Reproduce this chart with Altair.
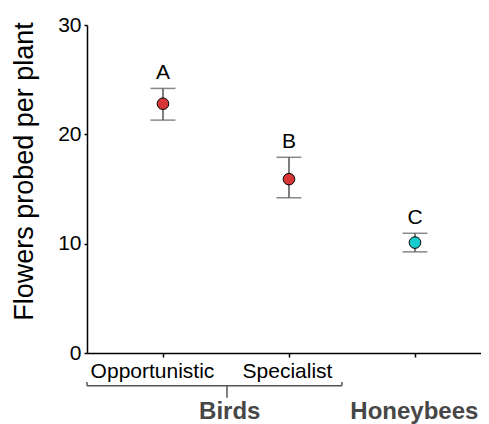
import altair as alt
import pandas as pd

# --- data ---
groups = ["Opportunistic", "Specialist", "Honeybees"]
means = [22.8, 15.9, 10.1]
lower = [21.3, 14.2, 9.25]
upper = [24.2, 17.9, 10.95]
letters = ["A", "B", "C"]
fills = ["#d63636", "#d63636", "#16cccc"]

# axis tick labels (Honeybees tick has no label under it)
tick_labels = ["Opportunistic", "Specialist", ""]

# group annotation below the axis
group_names = ["Birds", "Honeybees"]

df = pd.DataFrame({
    "pos": [i + 1 for i in range(len(groups))],
    "group": groups,
    "mean": means,
    "lower": lower,
    "upper": upper,
    "letter": letters,
    "fill": fills,
})

X_DOMAIN = [0.397, 3.524]
xs = alt.Scale(domain=X_DOMAIN, nice=False, zero=False)
ys = alt.Scale(domain=[0, 30], nice=False, zero=True)

label_expr = "datum.value == 1 ? '%s' : datum.value == 2 ? '%s' : ''" % (tick_labels[0], tick_labels[1])

x_axis = alt.Axis(
    values=[1, 2, 3], labelExpr=label_expr, title=None, grid=False,
    domainColor="black", domainWidth=1.5, tickColor="black", tickWidth=1.5, tickSize=4,
    labelFont="Liberation Sans", labelFontSize=21, labelColor="black", labelPadding=3,
    labelOffset=alt.condition("datum.value == 1", alt.value(-11), alt.value(-2)),
)
y_axis = alt.Axis(
    values=[0, 10, 20, 30], title="Flowers probed per plant", grid=False,
    domainColor="black", domainWidth=1.5, tickColor="black", tickWidth=1.5, tickSize=3,
    labelFont="Liberation Sans", labelFontSize=21, labelColor="black", labelPadding=3,
    titleFont="Liberation Sans", titleFontSize=27, titleFontWeight="normal", titleColor="black",
    titleX=-55, titleY=146, titleBaseline="alphabetic",
)

base = alt.Chart(df)

err = base.mark_rule(color="#555555", strokeWidth=1.5).encode(
    x=alt.X("pos:Q", scale=xs, axis=x_axis),
    y=alt.Y("lower:Q", scale=ys, axis=y_axis),
    y2="upper:Q",
)
cap_lo = base.mark_tick(orient="horizontal", color="#555555", size=25, thickness=1.5).encode(
    x=alt.X("pos:Q", scale=xs), y=alt.Y("lower:Q", scale=ys)
)
cap_hi = base.mark_tick(orient="horizontal", color="#555555", size=25, thickness=1.5).encode(
    x=alt.X("pos:Q", scale=xs), y=alt.Y("upper:Q", scale=ys)
)
pts = base.mark_point(filled=True, size=135, stroke="black", strokeWidth=1, opacity=1).encode(
    x=alt.X("pos:Q", scale=xs), y=alt.Y("mean:Q", scale=ys),
    fill=alt.Fill("fill:N", scale=None),
)
lett = base.mark_text(font="Liberation Sans", fontSize=21, color="black", baseline="alphabetic", dy=-9).encode(
    x=alt.X("pos:Q", scale=xs), y=alt.Y("upper:Q", scale=ys), text="letter:N"
)

# bracket grouping the two bird categories
br_y, br_end, br_mid = -3.0, -2.65, -4.1
bracket_h = pd.DataFrame({"x": [X_DOMAIN[0]], "x2": [2.42], "y": [br_y]})
bracket_v = pd.DataFrame({
    "x": [X_DOMAIN[0], 2.42, 1.508],
    "y": [br_y, br_y, br_y],
    "y2": [br_end, br_end, br_mid],
})
bh = alt.Chart(bracket_h).mark_rule(color="#555555", strokeWidth=1.5, clip=False).encode(
    x=alt.X("x:Q", scale=xs), x2="x2:Q", y=alt.Y("y:Q", scale=ys)
)
bv = alt.Chart(bracket_v).mark_rule(color="#555555", strokeWidth=1.5, clip=False).encode(
    x=alt.X("x:Q", scale=xs), y=alt.Y("y:Q", scale=ys), y2="y2:Q"
)

grp = pd.DataFrame({"name": group_names, "x": [1.53, 2.995], "y": [-6.05, -6.05]})
gt = alt.Chart(grp).mark_text(font="Liberation Sans", fontSize=24, fontWeight="bold",
                              color="#474747", baseline="alphabetic", clip=False).encode(
    x=alt.X("x:Q", scale=xs), y=alt.Y("y:Q", scale=ys), text="name:N"
)

chart = alt.layer(err, cap_lo, cap_hi, pts, lett, bh, bv, gt).properties(
    width=394, height=328,
    autosize=alt.AutoSizeParams(type="none"),
    padding={"left": 79, "top": 17, "right": 0, "bottom": 71},
).configure(background="white").configure_view(stroke=None)

chart.save("out.html", embed_options={"renderer": "svg", "actions": False})
